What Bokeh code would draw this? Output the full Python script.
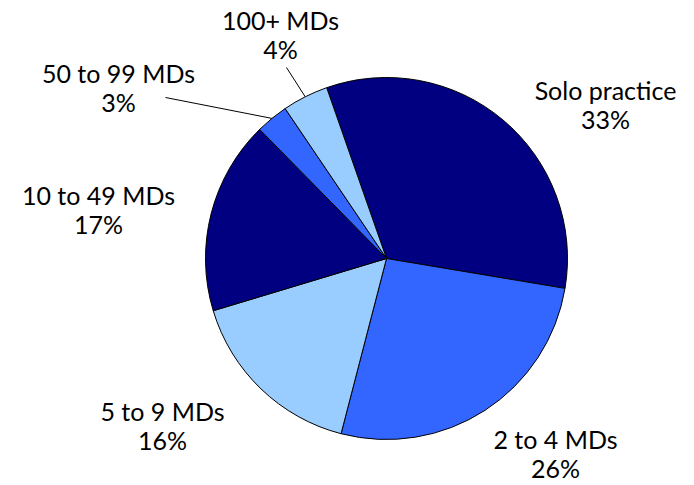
import math
from bokeh.plotting import figure
from bokeh.models import Range1d, ColumnDataSource
from bokeh.core.properties import value
from bokeh.embed import file_html
from bokeh.resources import INLINE

categories = ["Solo practice", "2 to 4 MDs", "5 to 9 MDs", "10 to 49 MDs", "50 to 99 MDs", "100+ MDs"]
shares = [33.0, 26.4, 16.3, 17.3, 2.9, 4.1]
pct_labels = ["33%", "26%", "16%", "17%", "3%", "4%"]
colors = ["#000080", "#3366FF", "#99CCFF", "#000080", "#3366FF", "#99CCFF"]

W, H = 694, 485
cx, cy, R = 386, H - 258, 181
start_offset = -19.3  # degrees clockwise from 12 o'clock

# label anchor positions (layout: center x, first-line middle y from top)
label_pos = [(605, 89), (555, 438), (162, 410), (98, 194), (118, 72), (280, 19)]
line_gap = 29
# leader lines: outer end for small slices (None = no leader)
leader_end = [None, None, None, None, (165, 97), (286, 67)]

p = figure(width=W, height=H, x_range=Range1d(0, W), y_range=Range1d(0, H),
           output_backend="svg", toolbar_location=None, min_border=0)
p.axis.visible = False
p.grid.visible = False
p.outline_line_color = None
p.background_fill_color = "white"

total = sum(shares)
cum = 0.0
starts, ends, mids = [], [], []
for v in shares:
    ts = start_offset + cum / total * 360
    te = start_offset + (cum + v) / total * 360
    starts.append(math.radians(90 - ts))
    ends.append(math.radians(90 - te))
    mids.append((ts + te) / 2)
    cum += v

src = ColumnDataSource(dict(start=starts, end=ends, color=colors))
p.wedge(x=cx, y=cy, radius=R, start_angle="start", end_angle="end", direction="clock",
        fill_color="color", line_color="black", line_width=1, source=src)

for i, le in enumerate(leader_end):
    if le is None:
        continue
    m = math.radians(mids[i])
    ex, ey = cx + R * math.sin(m), cy + R * math.cos(m)
    p.line([ex, le[0]], [ey, H - le[1]], line_color="black", line_width=1)

xs, y1, y2, t1, t2 = [], [], [], [], []
for i, (lx, ly) in enumerate(label_pos):
    xs.append(lx)
    y1.append(H - ly)
    y2.append(H - ly - line_gap)
    t1.append(categories[i])
    t2.append(pct_labels[i])

p.text(x=xs + xs, y=y1 + y2, text=t1 + t2, text_align="center", text_baseline="middle",
       text_font=value("Lato"), text_font_size="25px", text_color="black")

open("out.html", "w").write(file_html(p, INLINE))
